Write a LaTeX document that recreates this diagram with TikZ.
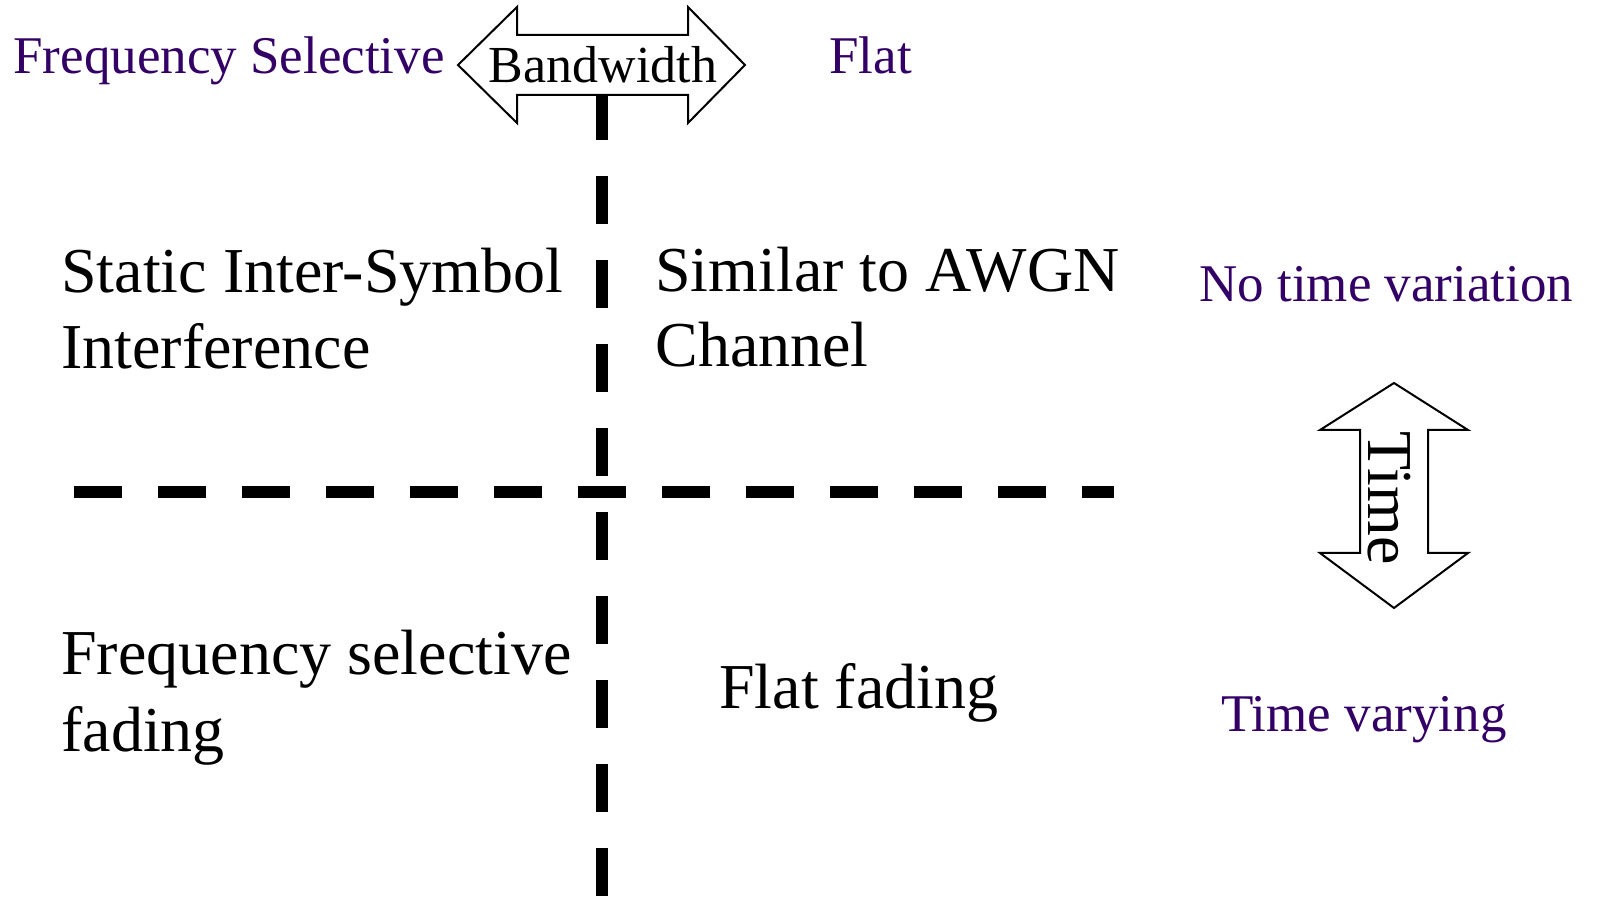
\documentclass[tikz,border=0pt]{standalone}
\usepackage{fontspec}
\setmainfont{Liberation Serif}
\definecolor{labpurple}{RGB}{51,0,102}
\begin{document}
\begin{tikzpicture}[x=0.5pt,y=-0.5pt,
  axisline/.style={line width=6pt, dash pattern=on 24pt off 18pt},
  bigtext/.style={font=\fontsize{32}{38}\selectfont, inner sep=0pt, anchor=base west},
  purpletext/.style={text=labpurple, font=\fontsize{26.5}{32}\selectfont, inner sep=0pt, anchor=base west},
  arrowshape/.style={draw, fill=white, line width=1pt, line join=miter}]
\useasboundingbox (0,0) rectangle (1597,898);
% axes
\coordinate (vtop) at (602,92);
\coordinate (vbot) at (602,900);
\coordinate (hl) at (74,492);
\coordinate (hr) at (1114,492);
\draw[axisline] (vtop) -- (vbot);
\draw[axisline] (hl) -- (hr);
% bandwidth arrow
\draw[arrowshape] (458,65) -- (517,7) -- (517,35) -- (688,35) -- (688,7) -- (745,65)
  -- (688,123) -- (688,95) -- (517,95) -- (517,123) -- cycle;
\node[font=\fontsize{26}{30}\selectfont, inner sep=0pt, anchor=base] (bw) at (603,83) {Bandwidth};
% time arrow
\draw[arrowshape] (1394,383) -- (1468,430) -- (1428,430) -- (1428,553) -- (1468,553)
  -- (1394,608) -- (1320,553) -- (1360,553) -- (1360,430) -- (1320,430) -- cycle;
\node[font=\fontsize{32}{38}\selectfont, inner sep=0pt, anchor=base, rotate=-90] (tm) at (1368,498) {Time};
% purple labels
\node[purpletext] (fs) at (13,74) {Frequency Selective};
\node[purpletext] (flat) at (829,74) {Flat};
\node[purpletext] (ntv) at (1199,302) {No time variation};
\node[purpletext] (tv) at (1221,731) {Time varying};
% quadrant texts
\node[bigtext] (s1) at (61,293) {Static Inter-Symbol};
\node[bigtext] (s2) at (61,369) {Interference};
\node[bigtext] (a1) at (655,292) {Similar to AWGN};
\node[bigtext] (a2) at (655,367) {Channel};
\node[bigtext] (f1) at (61,675) {Frequency selective};
\node[bigtext] (f2) at (61,751) {fading};
\node[bigtext] (ff) at (719,708) {Flat fading};
\end{tikzpicture}
\end{document}
